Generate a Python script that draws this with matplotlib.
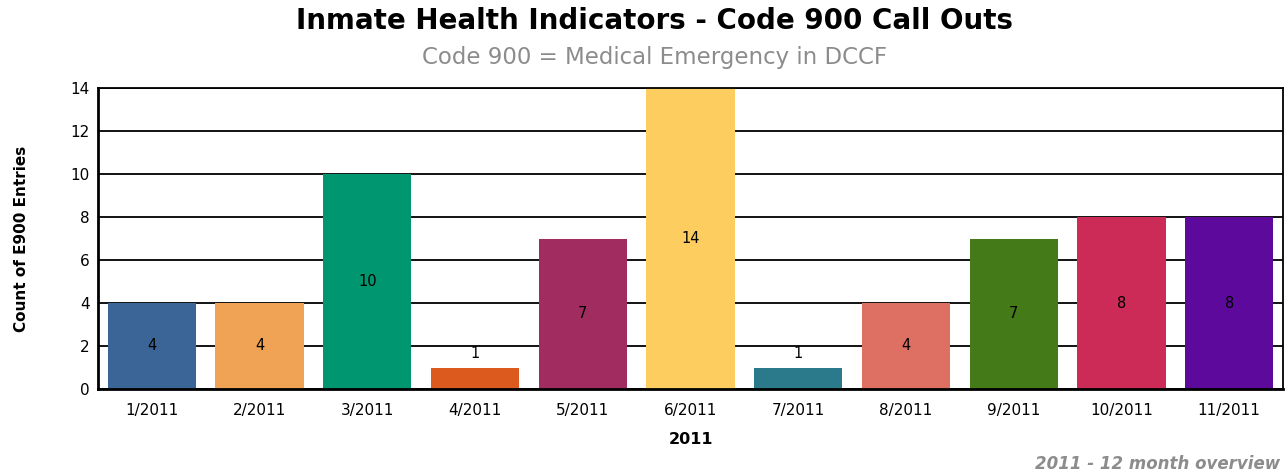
import matplotlib.pyplot as plt

plt.rcParams['font.family'] = ['DejaVu Sans']

months = ['1/2011', '2/2011', '3/2011', '4/2011', '5/2011', '6/2011',
          '7/2011', '8/2011', '9/2011', '10/2011', '11/2011']
counts = [4, 4, 10, 1, 7, 14, 1, 4, 7, 8, 8]
colors = ['#3a6596', '#f0a354', '#009670', '#dc5a1e', '#a02c60', '#fdcd60',
          '#2b7a8c', '#dd7062', '#447a18', '#cc2a57', '#5d0a9c']

fig = plt.figure(figsize=(12.88, 4.74), dpi=100)
ax = fig.add_axes([98 / 1288, 1 - 389 / 474, (1283 - 98) / 1288, (389 - 88) / 474])

x = range(len(months))
ax.bar(x, counts, width=0.82, color=colors, zorder=2)

# small bars get their label on top, others in the middle
for i, c in zip(x, counts):
    if c < 2:
        ax.text(i, c + 0.3, str(c), ha='center', va='bottom', fontsize=10.5, zorder=3)
    else:
        ax.text(i, c / 2, str(c), ha='center', va='center', fontsize=10.5, zorder=3)

ax.set_xlim(-0.5, len(months) - 0.5)
ax.set_ylim(0, 14)
ax.set_yticks(range(0, 15, 2))
ax.set_xticks(list(x))
ax.set_xticklabels(months)
ax.yaxis.grid(True, color='black', linewidth=1.3, zorder=0)
ax.set_axisbelow(True)
ax.tick_params(axis='both', labelsize=11, length=0, pad=6)
ax.tick_params(axis='x', pad=10)
for s in ['left', 'bottom']:
    ax.spines[s].set_linewidth(2)
for s in ['top', 'right']:
    ax.spines[s].set_linewidth(1.3)

ax.set_ylabel('Count of E900 Entries', fontsize=11, fontweight='bold', labelpad=30)
ax.set_xlabel('2011', fontsize=11.5, fontweight='bold', labelpad=10)

fig.text(0.508, 0.955, 'Inmate Health Indicators - Code 900 Call Outs',
         ha='center', va='center', fontsize=20, fontweight='bold')
fig.text(0.508, 0.878, 'Code 900 = Medical Emergency in DCCF',
         ha='center', va='center', fontsize=16.5, color='#8c8c8c')
fig.text(0.994, 0.022, '2011 - 12 month overview', ha='right', va='center',
         fontsize=12, fontweight='bold', fontstyle='italic', color='#8c8c8c')

fig.savefig('out.png', dpi=100)
